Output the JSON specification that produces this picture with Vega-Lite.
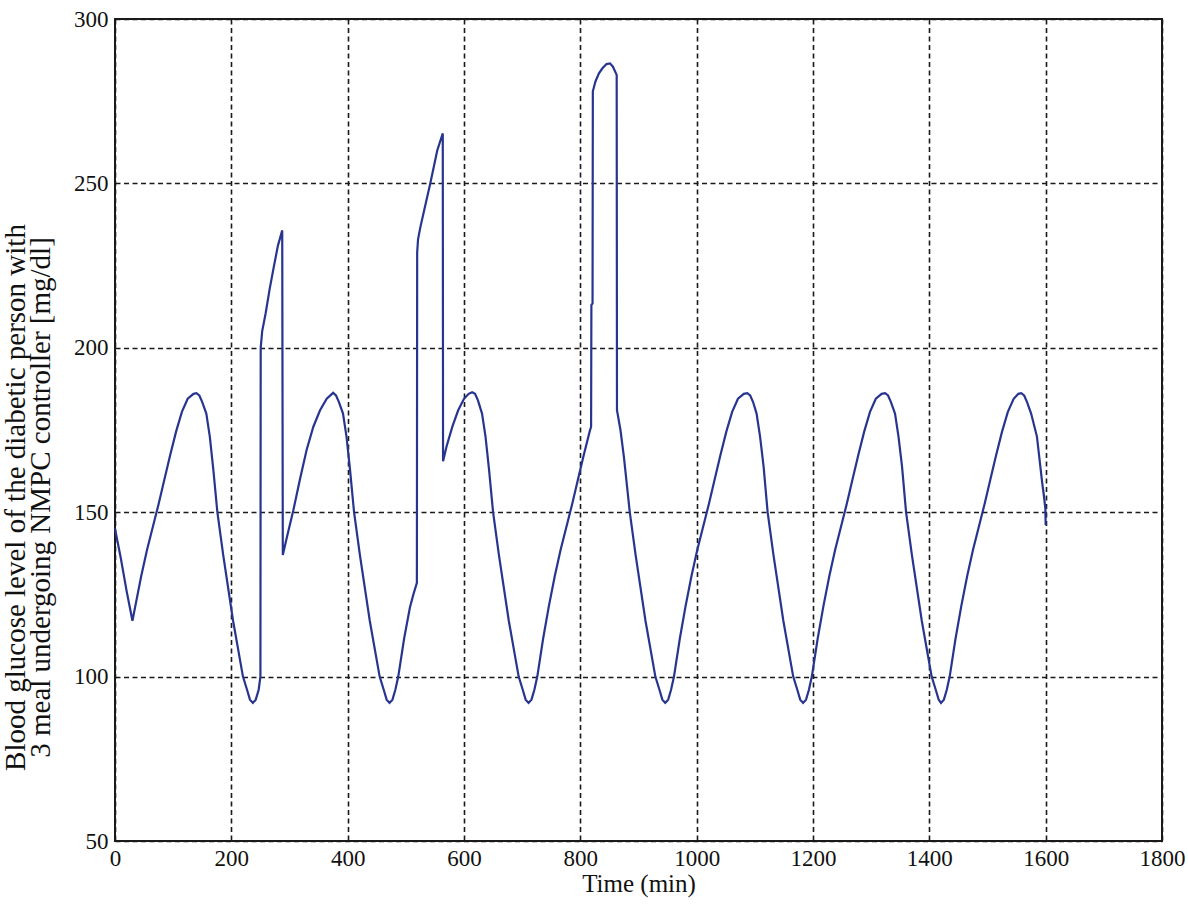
{
  "$schema": "https://vega.github.io/schema/vega-lite/v6.json",
  "autosize": {"type": "none"},
  "padding": {"left": 115, "top": 19, "right": 26, "bottom": 65},
  "width": 1047,
  "height": 822,
  "background": "white",
  "config": {
    "view": {"stroke": "#1a1a1a", "strokeWidth": 2},
    "font": "Liberation Serif",
    "axis": {
      "labelFont": "Liberation Serif",
      "titleFont": "Liberation Serif",
      "labelFontSize": 23,
      "titleFontSize": 25,
      "labelColor": "#111",
      "titleColor": "#111",
      "titleFontWeight": "normal",
      "domain": false,
      "ticks": false,
      "grid": true,
      "gridColor": "#1a1a1a",
      "gridOpacity": 1,
      "gridWidth": 1.6,
      "gridDash": [5, 3.5]
    }
  },
  "data": {
    "values": [
      {"t": 0, "g": 145}, {"t": 10, "g": 136}, {"t": 20, "g": 126}, {"t": 30, "g": 117},
      {"t": 35, "g": 121.5}, {"t": 45, "g": 130.5}, {"t": 55, "g": 138.5}, {"t": 65, "g": 145.5},
      {"t": 75, "g": 152.5}, {"t": 85, "g": 160}, {"t": 95, "g": 167.5}, {"t": 105, "g": 174.5},
      {"t": 115, "g": 180.5}, {"t": 125, "g": 184.5}, {"t": 135, "g": 186}, {"t": 140, "g": 186.2},
      {"t": 145, "g": 185.5}, {"t": 150, "g": 183.5}, {"t": 157, "g": 180}, {"t": 163, "g": 173},
      {"t": 169, "g": 163}, {"t": 176, "g": 150}, {"t": 186, "g": 137}, {"t": 203, "g": 117},
      {"t": 220, "g": 100}, {"t": 227, "g": 96}, {"t": 232, "g": 93}, {"t": 237, "g": 92},
      {"t": 242, "g": 93}, {"t": 247, "g": 96}, {"t": 250, "g": 100},
      {"t": 250.5, "g": 200}, {"t": 253, "g": 205}, {"t": 259, "g": 210.5}, {"t": 266, "g": 218},
      {"t": 273, "g": 224.6}, {"t": 280, "g": 231}, {"t": 287.5, "g": 235.7}, {"t": 288.5, "g": 137},
      {"t": 295, "g": 142}, {"t": 306.5, "g": 150.5}, {"t": 318, "g": 160}, {"t": 329.5, "g": 169},
      {"t": 341, "g": 176}, {"t": 352.5, "g": 181}, {"t": 364, "g": 184.5}, {"t": 375, "g": 186.3},
      {"t": 380, "g": 185.5}, {"t": 385, "g": 183.5}, {"t": 392, "g": 180}, {"t": 398, "g": 173},
      {"t": 404, "g": 163}, {"t": 411, "g": 150}, {"t": 421, "g": 137}, {"t": 438, "g": 117},
      {"t": 455, "g": 100}, {"t": 462, "g": 96}, {"t": 467, "g": 93}, {"t": 472, "g": 92},
      {"t": 477, "g": 93}, {"t": 482, "g": 96}, {"t": 487, "g": 100}, {"t": 497, "g": 111.5},
      {"t": 507, "g": 121}, {"t": 513, "g": 125}, {"t": 519, "g": 128.5},
      {"t": 519.5, "g": 229}, {"t": 521, "g": 233}, {"t": 525, "g": 236.7}, {"t": 533, "g": 243},
      {"t": 542, "g": 250}, {"t": 548, "g": 255}, {"t": 554, "g": 260}, {"t": 563.5, "g": 265.2},
      {"t": 564, "g": 165.5},
      {"t": 570, "g": 170}, {"t": 580, "g": 176}, {"t": 590, "g": 181}, {"t": 600, "g": 184.5},
      {"t": 608, "g": 186}, {"t": 614, "g": 186.5},
      {"t": 619, "g": 186}, {"t": 624, "g": 184}, {"t": 631, "g": 180}, {"t": 637, "g": 173},
      {"t": 643, "g": 163}, {"t": 650, "g": 150}, {"t": 660, "g": 137}, {"t": 677, "g": 117},
      {"t": 694, "g": 100}, {"t": 701, "g": 96}, {"t": 706, "g": 93}, {"t": 711, "g": 92},
      {"t": 716, "g": 93}, {"t": 721, "g": 96}, {"t": 726, "g": 100}, {"t": 736, "g": 111.5},
      {"t": 746, "g": 121.5}, {"t": 756, "g": 130.5}, {"t": 766, "g": 138.5}, {"t": 776, "g": 145.5},
      {"t": 786, "g": 152.5}, {"t": 796, "g": 160}, {"t": 806, "g": 167.5}, {"t": 816, "g": 174.5},
      {"t": 818.5, "g": 176},
      {"t": 819, "g": 213}, {"t": 821, "g": 213.5}, {"t": 821.5, "g": 278}, {"t": 826, "g": 281},
      {"t": 832, "g": 283.5}, {"t": 838, "g": 285}, {"t": 845, "g": 286.3}, {"t": 851, "g": 286.5},
      {"t": 856, "g": 285.5}, {"t": 862.5, "g": 283}, {"t": 863, "g": 181},
      {"t": 869, "g": 175}, {"t": 875, "g": 166.7}, {"t": 885, "g": 150}, {"t": 895, "g": 137},
      {"t": 912, "g": 117}, {"t": 929, "g": 100}, {"t": 936, "g": 96}, {"t": 941, "g": 93},
      {"t": 946, "g": 92},
      {"t": 951, "g": 93}, {"t": 956, "g": 96}, {"t": 961, "g": 100}, {"t": 971, "g": 111.5},
      {"t": 981, "g": 121.5}, {"t": 991, "g": 130.5}, {"t": 1001, "g": 138.5}, {"t": 1011, "g": 145.5},
      {"t": 1021, "g": 152.5}, {"t": 1031, "g": 160}, {"t": 1041, "g": 167.5}, {"t": 1051, "g": 174.5},
      {"t": 1061, "g": 180.5}, {"t": 1071, "g": 184.5}, {"t": 1081, "g": 186}, {"t": 1087, "g": 186.2},
      {"t": 1092, "g": 185.5}, {"t": 1097, "g": 183.5}, {"t": 1103, "g": 180}, {"t": 1109, "g": 173},
      {"t": 1115, "g": 164}, {"t": 1122, "g": 150}, {"t": 1132, "g": 137}, {"t": 1149, "g": 117},
      {"t": 1166, "g": 100}, {"t": 1173, "g": 96}, {"t": 1178, "g": 93}, {"t": 1183, "g": 92},
      {"t": 1188, "g": 93}, {"t": 1193, "g": 96}, {"t": 1198, "g": 100}, {"t": 1208, "g": 111.5},
      {"t": 1218, "g": 121.5}, {"t": 1228, "g": 130.5}, {"t": 1238, "g": 138.5}, {"t": 1248, "g": 145.5},
      {"t": 1258, "g": 152.5}, {"t": 1268, "g": 160}, {"t": 1278, "g": 167.5}, {"t": 1288, "g": 174.5},
      {"t": 1298, "g": 180.5}, {"t": 1308, "g": 184.5}, {"t": 1318, "g": 186}, {"t": 1324, "g": 186.2},
      {"t": 1329, "g": 185.5}, {"t": 1334, "g": 183.5}, {"t": 1341, "g": 180}, {"t": 1347, "g": 173},
      {"t": 1353, "g": 164}, {"t": 1360, "g": 150}, {"t": 1370, "g": 137}, {"t": 1387, "g": 117},
      {"t": 1404, "g": 100}, {"t": 1411, "g": 96}, {"t": 1416, "g": 93}, {"t": 1420, "g": 92},
      {"t": 1425, "g": 93}, {"t": 1430, "g": 96}, {"t": 1435, "g": 100}, {"t": 1445, "g": 111.5},
      {"t": 1455, "g": 121.5}, {"t": 1465, "g": 130.5}, {"t": 1475, "g": 138.5}, {"t": 1485, "g": 145.5},
      {"t": 1495, "g": 152.5}, {"t": 1505, "g": 160}, {"t": 1515, "g": 167.5}, {"t": 1525, "g": 174.5},
      {"t": 1535, "g": 180.5}, {"t": 1545, "g": 184.5}, {"t": 1553, "g": 186}, {"t": 1558, "g": 186.2},
      {"t": 1563, "g": 185.5}, {"t": 1568, "g": 183.5}, {"t": 1575, "g": 180}, {"t": 1585, "g": 173},
      {"t": 1594, "g": 159}, {"t": 1597, "g": 155}, {"t": 1599.5, "g": 151}, {"t": 1600, "g": 146}
    ]
  },
  "mark": {"type": "line", "color": "#27358f", "strokeWidth": 2.2, "interpolate": "linear"},
  "encoding": {
    "x": {
      "field": "t",
      "type": "quantitative",
      "scale": {"domain": [0, 1800], "nice": false, "zero": false},
      "axis": {
        "values": [0, 200, 400, 600, 800, 1000, 1200, 1400, 1600, 1800],
        "format": "d",
        "title": "Time (min)",
        "labelPadding": 6,
        "titlePadding": 1,
        "labelFlush": false
      }
    },
    "y": {
      "field": "g",
      "type": "quantitative",
      "scale": {"domain": [50, 300], "nice": false, "zero": false},
      "axis": {
        "values": [50, 100, 150, 200, 250, 300],
        "format": "d",
        "title": ["Blood glucose level of the diabetic person with", "3 meal undergoing NMPC controller [mg/dl]"],
        "titleFontSize": 29,
        "titleLineHeight": 25,
        "titleY": 478,
        "labelPadding": 7,
        "titlePadding": 18,
        "labelFlush": false
      }
    }
  }
}
